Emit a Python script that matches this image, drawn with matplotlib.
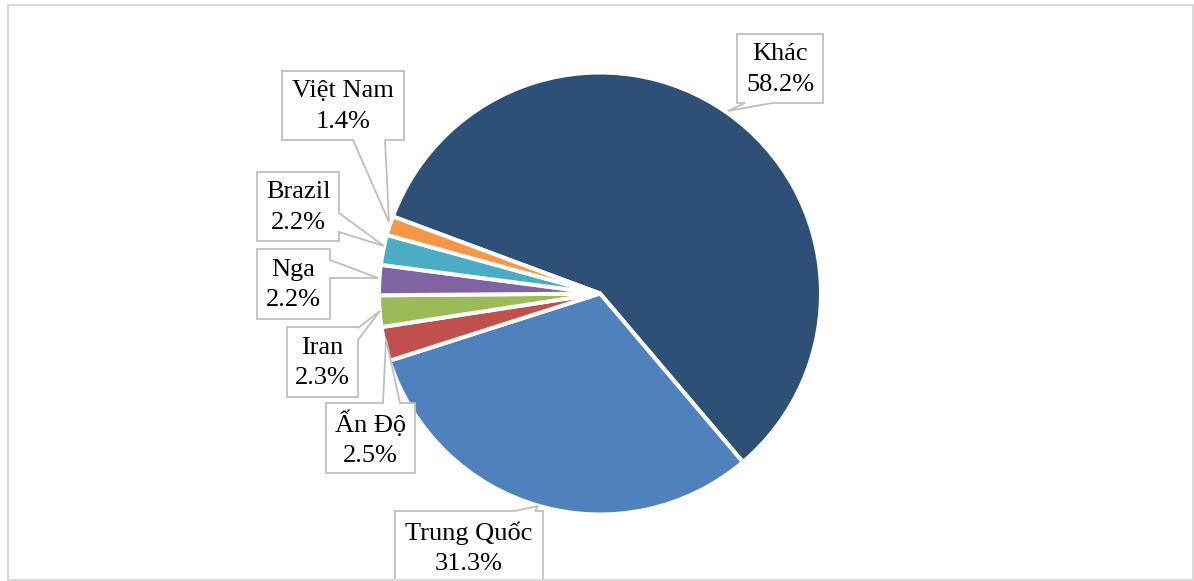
import matplotlib.pyplot as plt
from matplotlib.patches import Polygon, Rectangle

plt.rcParams['font.family'] = ['Liberation Serif', 'DejaVu Serif']

# Share of total (%)
countries = ["Khác", "Trung Quốc", "Ấn Độ", "Iran", "Nga", "Brazil", "Việt Nam"]
shares = [58.2, 31.3, 2.5, 2.3, 2.2, 2.2, 1.4]
colors = ["#2E5077", "#4F81BD", "#C0504D", "#9BBB59", "#8064A2", "#4BACC6", "#F79646"]

W, H = 1194, 581
fig = plt.figure(figsize=(W / 100, H / 100), dpi=100)
ax = fig.add_axes([0, 0, 1, 1])


def fy(y):
    # canvas coordinates are measured from the top edge
    return H - y


cx, cy, r = 600, 293.5, 221
ax.pie(shares, colors=colors, startangle=159.6, counterclock=False,
       center=(cx, fy(cy)), radius=r, frame=True,
       wedgeprops=dict(edgecolor="white", linewidth=2.9))

# Callout boxes: box (x0, y0, x1, y1), side of the tail, tail base span, tip
callouts = {
    "Việt Nam": ((282, 71, 404, 140), "bottom", (353, 385), (389, 222)),
    "Brazil": ((257, 172, 339, 241), "right", (213, 232), (384, 246)),
    "Nga": ((257, 249, 330, 319), "right", (260, 278), (378, 278)),
    "Iran": ((287, 327, 358, 397), "right", (328, 340), (380, 311)),
    "Ấn Độ": ((326, 403, 415, 473), "top", (383, 400), (386, 339)),
    "Trung Quốc": ((395, 511, 543, 592), "top", (515, 535), (538, 506)),
    "Khác": ((737, 34, 823, 103), "bottom", (745, 772), (728, 111)),
}


def callout_outline(box, side, span, tip):
    x0, y0, x1, y1 = box
    a, b = span
    pts = [(x0, y0)]
    if side == "top":
        pts += [(a, y0), tip, (b, y0)]
    pts += [(x1, y0)]
    if side == "right":
        pts += [(x1, a), tip, (x1, b)]
    pts += [(x1, y1)]
    if side == "bottom":
        pts += [(b, y1), tip, (a, y1)]
    pts += [(x0, y1)]
    if side == "left":
        pts += [(x0, b), tip, (x0, a)]
    return [(x, fy(y)) for x, y in pts]


for name, share in zip(countries, shares):
    box, side, span, tip = callouts[name]
    poly = Polygon(callout_outline(box, side, span, tip), closed=True,
                   facecolor="white", edgecolor="#BFBFBF", linewidth=1.3,
                   zorder=5)
    ax.add_patch(poly)
    x0, y0, x1, y1 = box
    ty = (y0 + y1) / 2 + 1 if name != "Trung Quốc" else 548
    ax.text((x0 + x1) / 2, fy(ty), f"{name}\n{share:.1f}%", ha="center",
            va="center", fontsize=19, color="black", linespacing=1.48,
            zorder=6)

# Chart area border
ax.add_patch(Rectangle((8, fy(580)), 1185, 575, facecolor="none",
                       edgecolor="#D9D9D9", linewidth=1.5, zorder=7))

ax.set_xlim(0, W)
ax.set_ylim(0, H)
ax.set_aspect("equal")
ax.axis("off")

fig.savefig("out.png", dpi=100, facecolor="white")
